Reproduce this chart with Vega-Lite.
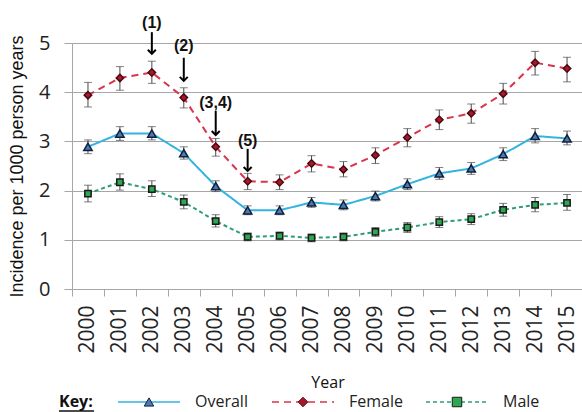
{
  "$schema": "https://vega.github.io/schema/vega-lite/v6.json",
  "autosize": {"type": "pad"},
  "padding": {"left": 8, "top": 14, "right": 0, "bottom": 0},
  "background": "white",
  "spacing": 3,
  "config": {
    "view": {"stroke": null},
    "axis": {
      "labelColor": "#222222",
      "titleColor": "#111111",
      "tickColor": "#a6a6a6",
      "domainColor": "#a6a6a6",
      "gridColor": "#a6a6a6",
      "titleFontWeight": "normal"
    }
  },
  "datasets": {
    "incidence": [
      {"year": 2000, "series": "Overall", "value": 2.89, "lo": 2.75, "hi": 3.03},
      {"year": 2001, "series": "Overall", "value": 3.16, "lo": 3.02, "hi": 3.30},
      {"year": 2002, "series": "Overall", "value": 3.16, "lo": 3.03, "hi": 3.30},
      {"year": 2003, "series": "Overall", "value": 2.76, "lo": 2.64, "hi": 2.89},
      {"year": 2004, "series": "Overall", "value": 2.09, "lo": 1.98, "hi": 2.20},
      {"year": 2005, "series": "Overall", "value": 1.60, "lo": 1.51, "hi": 1.69},
      {"year": 2006, "series": "Overall", "value": 1.60, "lo": 1.51, "hi": 1.69},
      {"year": 2007, "series": "Overall", "value": 1.76, "lo": 1.66, "hi": 1.86},
      {"year": 2008, "series": "Overall", "value": 1.71, "lo": 1.61, "hi": 1.81},
      {"year": 2009, "series": "Overall", "value": 1.89, "lo": 1.79, "hi": 1.99},
      {"year": 2010, "series": "Overall", "value": 2.13, "lo": 2.02, "hi": 2.24},
      {"year": 2011, "series": "Overall", "value": 2.35, "lo": 2.23, "hi": 2.47},
      {"year": 2012, "series": "Overall", "value": 2.45, "lo": 2.33, "hi": 2.57},
      {"year": 2013, "series": "Overall", "value": 2.74, "lo": 2.61, "hi": 2.87},
      {"year": 2014, "series": "Overall", "value": 3.11, "lo": 2.97, "hi": 3.26},
      {"year": 2015, "series": "Overall", "value": 3.06, "lo": 2.93, "hi": 3.21},
      {"year": 2000, "series": "Female", "value": 3.94, "lo": 3.70, "hi": 4.20},
      {"year": 2001, "series": "Female", "value": 4.29, "lo": 4.04, "hi": 4.52},
      {"year": 2002, "series": "Female", "value": 4.40, "lo": 4.18, "hi": 4.63},
      {"year": 2003, "series": "Female", "value": 3.89, "lo": 3.68, "hi": 4.09},
      {"year": 2004, "series": "Female", "value": 2.89, "lo": 2.70, "hi": 3.06},
      {"year": 2005, "series": "Female", "value": 2.19, "lo": 2.02, "hi": 2.35},
      {"year": 2006, "series": "Female", "value": 2.17, "lo": 2.02, "hi": 2.32},
      {"year": 2007, "series": "Female", "value": 2.55, "lo": 2.38, "hi": 2.71},
      {"year": 2008, "series": "Female", "value": 2.43, "lo": 2.28, "hi": 2.59},
      {"year": 2009, "series": "Female", "value": 2.72, "lo": 2.55, "hi": 2.87},
      {"year": 2010, "series": "Female", "value": 3.08, "lo": 2.89, "hi": 3.26},
      {"year": 2011, "series": "Female", "value": 3.44, "lo": 3.24, "hi": 3.64},
      {"year": 2012, "series": "Female", "value": 3.57, "lo": 3.37, "hi": 3.76},
      {"year": 2013, "series": "Female", "value": 3.97, "lo": 3.76, "hi": 4.18},
      {"year": 2014, "series": "Female", "value": 4.60, "lo": 4.35, "hi": 4.83},
      {"year": 2015, "series": "Female", "value": 4.48, "lo": 4.21, "hi": 4.71},
      {"year": 2000, "series": "Male", "value": 1.94, "lo": 1.77, "hi": 2.11},
      {"year": 2001, "series": "Male", "value": 2.17, "lo": 2.01, "hi": 2.34},
      {"year": 2002, "series": "Male", "value": 2.03, "lo": 1.88, "hi": 2.20},
      {"year": 2003, "series": "Male", "value": 1.77, "lo": 1.63, "hi": 1.91},
      {"year": 2004, "series": "Male", "value": 1.38, "lo": 1.26, "hi": 1.51},
      {"year": 2005, "series": "Male", "value": 1.06, "lo": 0.98, "hi": 1.14},
      {"year": 2006, "series": "Male", "value": 1.08, "lo": 1.00, "hi": 1.16},
      {"year": 2007, "series": "Male", "value": 1.04, "lo": 0.96, "hi": 1.12},
      {"year": 2008, "series": "Male", "value": 1.06, "lo": 0.98, "hi": 1.14},
      {"year": 2009, "series": "Male", "value": 1.16, "lo": 1.07, "hi": 1.25},
      {"year": 2010, "series": "Male", "value": 1.25, "lo": 1.15, "hi": 1.35},
      {"year": 2011, "series": "Male", "value": 1.36, "lo": 1.25, "hi": 1.47},
      {"year": 2012, "series": "Male", "value": 1.42, "lo": 1.31, "hi": 1.53},
      {"year": 2013, "series": "Male", "value": 1.61, "lo": 1.48, "hi": 1.74},
      {"year": 2014, "series": "Male", "value": 1.71, "lo": 1.57, "hi": 1.86},
      {"year": 2015, "series": "Male", "value": 1.75, "lo": 1.60, "hi": 1.92}
    ],
    "events": [
      {"year": 2002, "label": "(1)", "labelAt": 5.41, "arrowFrom": 5.22, "arrowTo": 4.78},
      {"year": 2003, "label": "(2)", "labelAt": 4.94, "arrowFrom": 4.70, "arrowTo": 4.23},
      {"year": 2004, "label": "(3,4)", "labelAt": 3.78, "arrowFrom": 3.62, "arrowTo": 3.13},
      {"year": 2005, "label": "(5)", "labelAt": 3.01, "arrowFrom": 2.85, "arrowTo": 2.40}
    ],
    "key": [
      {"series": "Overall"},
      {"series": "Female"},
      {"series": "Male"}
    ]
  },
  "vconcat": [
    {
      "width": 511,
      "height": 246,
      "data": {"name": "incidence"},
      "encoding": {
        "x": {
          "field": "year",
          "type": "ordinal",
          "scale": {"type": "band", "paddingInner": 0, "paddingOuter": 0},
          "axis": {
            "title": "Year",
            "titleFont": "Open Sans",
            "titleFontSize": 16,
            "titlePadding": 21,
            "labelAngle": -90,
            "labelFont": "Open Sans",
            "labelFontSize": 21,
            "labelPadding": 9,
            "tickBand": "extent",
            "tickSize": 7,
            "grid": false
          }
        }
      },
      "layer": [
        {
          "mark": {"type": "line", "strokeWidth": 2},
          "encoding": {
            "y": {
              "field": "value",
              "type": "quantitative",
              "scale": {"domain": [0, 5], "nice": false},
              "axis": {
                "title": "Incidence per 1000 person years",
                "titleFont": "Liberation Sans",
                "titleFontSize": 18,
                "titlePadding": 12,
                "values": [0, 1, 2, 3, 4, 5],
                "labelFont": "Open Sans",
                "labelFontSize": 20,
                "labelPadding": 14,
                "tickSize": 8,
                "grid": true
              }
            },
            "color": {
              "field": "series",
              "type": "nominal",
              "scale": {"domain": ["Overall", "Female", "Male"], "range": ["#33b4e0", "#d8344c", "#2f9e72"]},
              "legend": null
            },
            "strokeDash": {
              "field": "series",
              "type": "nominal",
              "scale": {"domain": ["Overall", "Female", "Male"], "range": [[1, 0], [7, 5], [4, 3]]},
              "legend": null
            }
          }
        },
        {
          "mark": {"type": "rule", "color": "#4a4a4a", "strokeWidth": 1},
          "encoding": {
            "y": {"field": "lo", "type": "quantitative"},
            "y2": {"field": "hi"}
          }
        },
        {
          "mark": {"type": "tick", "color": "#4a4a4a", "size": 8, "thickness": 1, "orient": "horizontal"},
          "encoding": {"y": {"field": "lo", "type": "quantitative"}}
        },
        {
          "mark": {"type": "tick", "color": "#4a4a4a", "size": 8, "thickness": 1, "orient": "horizontal"},
          "encoding": {"y": {"field": "hi", "type": "quantitative"}}
        },
        {
          "mark": {"type": "point", "filled": true, "opacity": 1, "strokeWidth": 1.5},
          "encoding": {
            "y": {"field": "value", "type": "quantitative"},
            "shape": {
              "field": "series",
              "type": "nominal",
              "scale": {"domain": ["Overall", "Female", "Male"], "range": ["triangle-up", "diamond", "square"]},
              "legend": null
            },
            "fill": {
              "field": "series",
              "type": "nominal",
              "scale": {"domain": ["Overall", "Female", "Male"], "range": ["#4d78b0", "#a8182c", "#2ea652"]},
              "legend": null
            },
            "stroke": {
              "field": "series",
              "type": "nominal",
              "scale": {"domain": ["Overall", "Female", "Male"], "range": ["#10203c", "#4a0a12", "#1a1a1a"]},
              "legend": null
            },
            "size": {
              "field": "series",
              "type": "nominal",
              "scale": {"domain": ["Overall", "Female", "Male"], "range": [70, 40, 70]},
              "legend": null
            }
          }
        },
        {
          "data": {"name": "events"},
          "mark": {"type": "rule", "color": "#000000", "strokeWidth": 2},
          "encoding": {
            "y": {"field": "arrowFrom", "type": "quantitative"},
            "y2": {"field": "arrowTo"}
          }
        },
        {
          "data": {"name": "events"},
          "mark": {"type": "point", "shape": "M-1,-1L0,0L1,-1", "filled": false, "stroke": "#000000", "strokeWidth": 2, "size": 64, "opacity": 1},
          "encoding": {
            "y": {"field": "arrowTo", "type": "quantitative"}
          }
        },
        {
          "data": {"name": "events"},
          "mark": {"type": "text", "font": "Liberation Sans", "fontSize": 16, "fontWeight": "bold", "color": "#111111", "baseline": "middle"},
          "encoding": {
            "y": {"field": "labelAt", "type": "quantitative"},
            "text": {"field": "label"}
          }
        }
      ]
    },
    {
      "width": 462,
      "height": 14,
      "data": {"name": "key"},
      "encoding": {
        "x": {
          "field": "series",
          "type": "nominal",
          "sort": ["Overall", "Female", "Male"],
          "scale": {"type": "band", "paddingInner": 0, "paddingOuter": 0},
          "axis": null
        }
      },
      "layer": [
        {
          "mark": {"type": "rule", "strokeWidth": 1.5, "xOffset": -31, "x2Offset": 31},
          "encoding": {
            "x2": {"field": "series"},
            "color": {
              "field": "series",
              "type": "nominal",
              "scale": {"domain": ["Overall", "Female", "Male"], "range": ["#4f81bd", "#ee1111", "#1a8c1a"]},
              "legend": null
            },
            "strokeDash": {
              "field": "series",
              "type": "nominal",
              "scale": {"domain": ["Overall", "Female", "Male"], "range": [[1, 0], [7, 5], [4, 2]]},
              "legend": null
            }
          }
        },
        {
          "mark": {"type": "point", "filled": true, "opacity": 1, "strokeWidth": 1},
          "encoding": {
            "shape": {
              "field": "series",
              "type": "nominal",
              "scale": {"domain": ["Overall", "Female", "Male"], "range": ["triangle-up", "diamond", "square"]},
              "legend": null
            },
            "fill": {
              "field": "series",
              "type": "nominal",
              "scale": {"domain": ["Overall", "Female", "Male"], "range": ["#3b6fd8", "#ff0000", "#10a010"]},
              "legend": null
            },
            "stroke": {
              "field": "series",
              "type": "nominal",
              "scale": {"domain": ["Overall", "Female", "Male"], "range": ["#0a1a40", "#b00000", "#0a300a"]},
              "legend": null
            },
            "size": {"value": 90}
          }
        },
        {
          "mark": {"type": "text", "align": "left", "baseline": "middle", "dx": 46, "font": "Open Sans", "fontSize": 16, "color": "#222222"},
          "encoding": {"text": {"field": "series"}}
        },
        {
          "transform": [{"filter": "datum.series === 'Overall'"}],
          "mark": {"type": "text", "text": "Key:", "align": "left", "baseline": "middle", "dx": -90, "font": "Open Sans", "fontSize": 16, "fontWeight": "bold", "color": "#111111"}
        },
        {
          "transform": [{"filter": "datum.series === 'Overall'"}],
          "mark": {"type": "rule", "color": "#111111", "strokeWidth": 1.5, "xOffset": -90, "x2Offset": -55, "yOffset": 9},
          "encoding": {"x2": {"field": "series"}, "y": {"value": 7}}
        }
      ]
    }
  ]
}
